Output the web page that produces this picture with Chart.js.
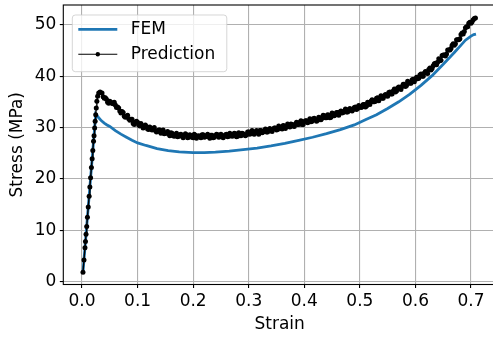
<!DOCTYPE html>
<html>
<head>
<meta charset="utf-8">
<script src="https://cdn.jsdelivr.net/npm/chart.js@4.4.1/dist/chart.umd.min.js"></script>
<style>
  html, body { margin: 0; padding: 0; overflow: hidden; background: #fff; }
  #wrap { width: 500px; height: 338px; }
</style>
</head>
<body>
<div id="wrap"><canvas id="c" width="500" height="338"></canvas></div>
<script>
// ---- data -------------------------------------------------------------
const seriesNames = ['FEM', 'Prediction'];
const axisTitles = ['Strain', 'Stress (MPa)'];
const xTicks = [0.0, 0.1, 0.2, 0.3, 0.4, 0.5, 0.6, 0.7];
const yTicks = [0, 10, 20, 30, 40, 50];

// finite element reference curve
const femStrain = [0.0017, 0.0247, 0.030, 0.035, 0.040, 0.045, 0.050, 0.060, 0.070, 0.080,
  0.090, 0.100, 0.115, 0.135, 0.155, 0.175, 0.200, 0.220, 0.240, 0.265,
  0.290, 0.315, 0.340, 0.365, 0.390, 0.415, 0.440, 0.465, 0.490, 0.510,
  0.530, 0.550, 0.570, 0.590, 0.610, 0.630, 0.650, 0.670, 0.680, 0.690,
  0.700, 0.705, 0.709];
const femStress = [1.8, 32.6, 31.9, 31.3, 30.85, 30.5, 30.2, 29.4, 28.7, 28.1,
  27.5, 27.0, 26.5, 25.9, 25.5, 25.25, 25.1, 25.1, 25.2, 25.4,
  25.7, 26.0, 26.4, 26.9, 27.5, 28.1, 28.8, 29.6, 30.5, 31.5,
  32.5, 33.7, 35.0, 36.5, 38.2, 40.1, 42.3, 44.6, 45.8, 47.0,
  47.8, 48.1, 48.2];

// predicted response, first sample set (elastic rise + every other step)
const predStrainA = [0.0017, 0.0035, 0.0053, 0.0062, 0.0072, 0.0084, 0.0097, 0.0112, 0.0128, 0.0141,
  0.0154, 0.0169, 0.0182, 0.0194, 0.0207, 0.0216, 0.0227, 0.0236, 0.0246, 0.0256,
  0.0267, 0.0281, 0.0300, 0.0325,
  0.036, 0.040, 0.044, 0.048, 0.052, 0.056, 0.060, 0.064, 0.068, 0.072,
  0.076, 0.080, 0.084, 0.088, 0.092, 0.096, 0.100, 0.104, 0.108, 0.112,
  0.116, 0.120, 0.124, 0.128, 0.132, 0.136, 0.140, 0.144, 0.148, 0.152,
  0.156, 0.160, 0.164, 0.168, 0.172, 0.176, 0.180, 0.184, 0.188, 0.192,
  0.196, 0.200, 0.204, 0.208, 0.212, 0.216, 0.220, 0.224, 0.228, 0.232,
  0.236, 0.240, 0.244, 0.248, 0.252, 0.256, 0.260, 0.264, 0.268, 0.272,
  0.276, 0.280, 0.284, 0.288, 0.292, 0.296, 0.300, 0.304, 0.308, 0.312,
  0.316, 0.320, 0.324, 0.328, 0.332, 0.336, 0.340, 0.344, 0.348, 0.352,
  0.356, 0.360, 0.364, 0.368, 0.372, 0.376, 0.380, 0.384, 0.388, 0.392,
  0.396, 0.400, 0.404, 0.408, 0.412, 0.416, 0.420, 0.424, 0.428, 0.432,
  0.436, 0.440, 0.444, 0.448, 0.452, 0.456, 0.460, 0.464, 0.468, 0.472,
  0.476, 0.480, 0.484, 0.488, 0.492, 0.496, 0.500, 0.504, 0.508, 0.512,
  0.516, 0.520, 0.524, 0.528, 0.532, 0.536, 0.540, 0.544, 0.548, 0.552,
  0.556, 0.560, 0.564, 0.568, 0.572, 0.576, 0.580, 0.584, 0.588, 0.592,
  0.596, 0.600, 0.604, 0.608, 0.612, 0.616, 0.620, 0.624, 0.628, 0.632,
  0.636, 0.640, 0.644, 0.648, 0.652, 0.656, 0.660, 0.664, 0.668, 0.672,
  0.676, 0.680, 0.684, 0.688, 0.692, 0.696, 0.700, 0.704, 0.708];
const predStressA = [1.8, 4.2, 6.6, 7.8, 9.2, 10.7, 12.5, 14.5, 16.6, 18.4,
  20.2, 22.2, 23.9, 25.5, 27.3, 28.4, 29.9, 31.2, 32.5, 33.8,
  35.1, 36.1, 36.7, 36.9,
  36.7, 35.7, 35.5, 34.7, 34.9, 34.6, 34.4, 34.0, 33.2, 33.1,
  32.2, 32.2, 31.7, 31.6, 30.8, 31.0, 31.0, 30.3, 30.4, 30.1,
  30.2, 29.6, 29.8, 29.8, 29.4, 29.2, 29.5, 29.1, 28.8, 29.0,
  28.7, 29.0, 28.4, 28.6, 28.2, 28.6, 28.3, 28.5, 28.6, 28.1,
  28.4, 28.0, 28.5, 28.3, 28.2, 28.6, 28.1, 28.4, 28.2, 28.5,
  28.0, 28.4, 28.6, 28.2, 28.4, 28.3, 28.7, 28.3, 28.6, 28.4,
  28.8, 28.3, 28.7, 28.9, 28.6, 28.6, 29.1, 28.9, 28.8, 29.1,
  29.0, 29.4, 29.0, 29.4, 29.1, 29.6, 29.4, 29.7, 29.9, 29.6,
  30.0, 29.7, 30.3, 30.2, 30.2, 30.7, 30.3, 30.7, 30.6, 31.0,
  30.6, 31.1, 31.3, 31.1, 31.1, 31.7, 31.5, 31.4, 31.9, 31.8,
  32.3, 31.9, 32.4, 32.0, 32.7, 32.5, 32.9, 33.0, 32.8, 33.2,
  33.0, 33.5, 33.5, 33.5, 34.0, 33.7, 34.1, 34.0, 34.5, 34.2,
  34.8, 35.1, 35.0, 35.1, 35.8, 35.7, 35.7, 36.2, 36.2, 36.8,
  36.5, 37.1, 36.9, 37.7, 37.6, 38.0, 38.4, 38.2, 38.8, 38.6,
  39.4, 39.4, 39.5, 40.2, 40.0, 40.6, 40.6, 41.3, 41.2, 42.0,
  42.5, 42.7, 43.0, 44.0, 44.1, 44.3, 45.1, 45.4, 46.3, 46.3,
  47.1, 47.3, 48.4, 48.7, 49.6, 50.3, 50.3, 51.0, 51.3];

// predicted response, intermediate steps
const predStrainB = [0.038, 0.042, 0.046, 0.050, 0.054, 0.058, 0.062, 0.066, 0.070, 0.074,
  0.078, 0.082, 0.086, 0.090, 0.094, 0.098, 0.102, 0.106, 0.110, 0.114,
  0.118, 0.122, 0.126, 0.130, 0.134, 0.138, 0.142, 0.146, 0.150, 0.154,
  0.158, 0.162, 0.166, 0.170, 0.174, 0.178, 0.182, 0.186, 0.190, 0.194,
  0.198, 0.202, 0.206, 0.210, 0.214, 0.218, 0.222, 0.226, 0.230, 0.234,
  0.238, 0.242, 0.246, 0.250, 0.254, 0.258, 0.262, 0.266, 0.270, 0.274,
  0.278, 0.282, 0.286, 0.290, 0.294, 0.298, 0.302, 0.306, 0.310, 0.314,
  0.318, 0.322, 0.326, 0.330, 0.334, 0.338, 0.342, 0.346, 0.350, 0.354,
  0.358, 0.362, 0.366, 0.370, 0.374, 0.378, 0.382, 0.386, 0.390, 0.394,
  0.398, 0.402, 0.406, 0.410, 0.414, 0.418, 0.422, 0.426, 0.430, 0.434,
  0.438, 0.442, 0.446, 0.450, 0.454, 0.458, 0.462, 0.466, 0.470, 0.474,
  0.478, 0.482, 0.486, 0.490, 0.494, 0.498, 0.502, 0.506, 0.510, 0.514,
  0.518, 0.522, 0.526, 0.530, 0.534, 0.538, 0.542, 0.546, 0.550, 0.554,
  0.558, 0.562, 0.566, 0.570, 0.574, 0.578, 0.582, 0.586, 0.590, 0.594,
  0.598, 0.602, 0.606, 0.610, 0.614, 0.618, 0.622, 0.626, 0.630, 0.634,
  0.638, 0.642, 0.646, 0.650, 0.654, 0.658, 0.662, 0.666, 0.670, 0.674,
  0.678, 0.682, 0.686, 0.690, 0.694, 0.698, 0.702, 0.706];
const predStressB = [36.0, 35.8, 34.9, 35.1, 34.7, 34.9, 33.9, 33.8, 32.8, 32.9,
  32.0, 32.4, 31.4, 31.6, 30.6, 31.2, 30.5, 30.8, 29.9, 30.5,
  29.7, 30.1, 29.5, 30.0, 29.1, 29.5, 28.9, 29.5, 28.9, 29.2,
  28.4, 28.9, 28.3, 28.9, 28.3, 28.7, 28.0, 28.8, 28.0, 28.6,
  28.1, 28.7, 27.9, 28.4, 28.0, 28.6, 28.2, 28.7, 27.9, 28.5,
  28.1, 28.7, 28.1, 28.7, 28.0, 28.6, 28.2, 28.9, 28.3, 28.9,
  28.2, 29.0, 28.4, 28.8, 28.4, 29.1, 28.7, 29.4, 28.7, 29.4,
  28.7, 29.4, 29.1, 29.7, 29.1, 29.8, 29.2, 29.9, 29.5, 30.3,
  29.8, 30.4, 29.8, 30.7, 30.1, 30.6, 30.2, 31.0, 30.6, 31.3,
  30.6, 31.3, 30.9, 31.7, 31.2, 31.8, 31.2, 32.0, 31.5, 32.4,
  31.9, 32.5, 31.9, 32.8, 32.3, 32.9, 32.4, 33.2, 32.9, 33.6,
  33.0, 33.7, 33.2, 33.9, 33.5, 34.3, 33.9, 34.5, 34.0, 34.9,
  34.5, 35.4, 35.0, 35.7, 35.2, 36.2, 35.7, 36.4, 36.1, 36.9,
  36.5, 37.5, 37.1, 37.9, 37.4, 38.4, 38.0, 39.0, 38.6, 39.3,
  38.9, 39.8, 39.6, 40.4, 40.0, 40.9, 40.5, 41.6, 41.5, 42.4,
  42.2, 43.4, 43.1, 44.1, 43.9, 45.1, 45.1, 46.0, 46.0, 47.1,
  47.1, 48.1, 48.2, 49.4, 49.6, 50.5, 50.6, 51.2];

// ---- styling ----------------------------------------------------------
const FONT = { family: 'DejaVu Sans', size: 17 };
const BLUE = '#1f77b4';
const GRID = '#b0b0b0';

const toPoints = (xs, ys) => xs.map((x, i) => ({ x: x, y: ys[i] }));
const predPoints = toPoints(predStrainA, predStressA)
  .concat(toPoints(predStrainB, predStressB))
  .sort((p, q) => p.x - q.x);

// axes frame (all four spines)
const framePlugin = {
  id: 'frame',
  afterDatasetsDraw(chart) {
    const { ctx, chartArea: a } = chart;
    ctx.save();
    ctx.strokeStyle = '#000';
    ctx.lineWidth = 1.1;
    ctx.strokeRect(a.left, a.top, a.right - a.left, a.bottom - a.top);
    ctx.restore();
  }
};

// framed legend in the upper-left corner of the axes
const legendPlugin = {
  id: 'boxLegend',
  afterDraw(chart) {
    const { ctx, chartArea: a } = chart;
    const ds = chart.data.datasets;
    const x0 = a.left + 9, y0 = a.top + 10, w = 154.5, h = 56.7, r = 3;
    ctx.save();
    ctx.beginPath();
    ctx.moveTo(x0 + r, y0);
    ctx.lineTo(x0 + w - r, y0);
    ctx.arcTo(x0 + w, y0, x0 + w, y0 + r, r);
    ctx.lineTo(x0 + w, y0 + h - r);
    ctx.arcTo(x0 + w, y0 + h, x0 + w - r, y0 + h, r);
    ctx.lineTo(x0 + r, y0 + h);
    ctx.arcTo(x0, y0 + h, x0, y0 + h - r, r);
    ctx.lineTo(x0, y0 + r);
    ctx.arcTo(x0, y0, x0 + r, y0, r);
    ctx.closePath();
    ctx.fillStyle = 'rgba(255,255,255,0.8)';
    ctx.fill();
    ctx.strokeStyle = 'rgba(204,204,204,0.8)';
    ctx.lineWidth = 1;
    ctx.stroke();

    const rows = [y0 + 14.3, y0 + 39.3];
    ds.forEach((d, i) => {
      const yy = rows[i];
      ctx.beginPath();
      ctx.moveTo(x0 + 6, yy);
      ctx.lineTo(x0 + 45, yy);
      ctx.strokeStyle = d.borderColor;
      ctx.lineWidth = d.legendLineWidth || d.borderWidth;
      ctx.stroke();
      if (d.pointRadius > 0) {
        ctx.beginPath();
        ctx.arc(x0 + 25.5, yy, 2.2, 0, Math.PI * 2);
        ctx.fillStyle = d.pointBackgroundColor;
        ctx.fill();
      }
      ctx.fillStyle = '#000';
      ctx.font = FONT.size + 'px "' + FONT.family + '"';
      ctx.textAlign = 'left';
      ctx.textBaseline = 'middle';
      ctx.fillText(d.label, x0 + 58.4, yy + 0.5);
    });
    ctx.restore();
  }
};

new Chart(document.getElementById('c'), {
  type: 'line',
  data: {
    datasets: [
      {
        label: seriesNames[0],
        data: toPoints(femStrain, femStress),
        borderColor: BLUE,
        borderWidth: 2.8,
        pointRadius: 0,
        tension: 0,
        fill: false,
        order: 2
      },
      {
        label: seriesNames[1],
        data: predPoints,
        borderColor: '#000',
        borderWidth: 1.4,
        legendLineWidth: 1.1,
        pointRadius: 2.5,
        pointBorderWidth: 0,
        pointBackgroundColor: '#000',
        pointHoverRadius: 2.5,
        tension: 0,
        fill: false,
        order: 1
      }
    ]
  },
  options: {
    responsive: false,
    animation: false,
    events: [],
    layout: { padding: { top: 5, right: 4, left: 0, bottom: 0 } },
    plugins: { legend: { display: false }, tooltip: { enabled: false } },
    scales: {
      x: {
        type: 'linear',
        min: -0.0337,
        max: 0.745,
        afterBuildTicks: s => { s.ticks = xTicks.map(v => ({ value: v })); },
        afterFit: s => { s.height = 53.5; s.paddingLeft = 0; s.paddingRight = 0; },
        ticks: {
          autoSkip: false, maxRotation: 0, padding: 3.5,
          color: '#000', font: FONT,
          callback: v => v.toFixed(1)
        },
        grid: { color: GRID, lineWidth: 1.1, tickLength: 3.5, tickColor: '#000', tickWidth: 1.1 },
        border: { display: false },
        title: { display: true, text: axisTitles[0], color: '#000', font: FONT, padding: { top: 0, bottom: 3 } }
      },
      y: {
        type: 'linear',
        min: -0.57,
        max: 53.85,
        afterBuildTicks: s => { s.ticks = yTicks.map(v => ({ value: v })); },
        afterFit: s => { s.width = 63.3; s.paddingTop = 0; s.paddingBottom = 0; },
        ticks: {
          autoSkip: false, padding: 3.5,
          color: '#000', font: FONT,
          callback: v => String(v)
        },
        grid: { color: GRID, lineWidth: 1.1, tickLength: 3.5, tickColor: '#000', tickWidth: 1.1 },
        border: { display: false },
        title: { display: true, text: axisTitles[1], color: '#000', font: FONT, padding: { top: 7, bottom: 0 } }
      }
    }
  },
  plugins: [framePlugin, legendPlugin]
});
</script>
</body>
</html>
